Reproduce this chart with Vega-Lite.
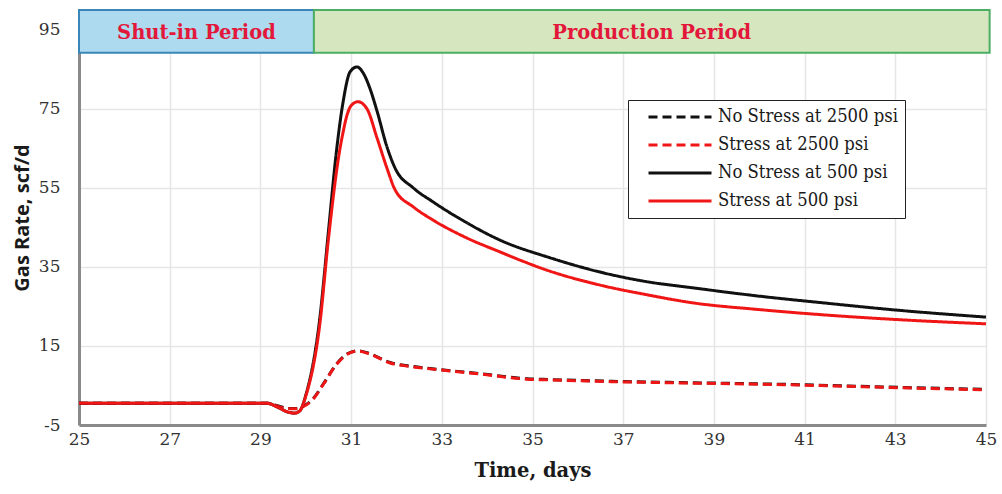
{
  "$schema": "https://vega.github.io/schema/vega-lite/v6.json",
  "width": 907,
  "height": 415,
  "autosize": {"type": "none"},
  "padding": {"left": 79, "top": 10, "right": 16, "bottom": 69},
  "background": "white",
  "config": {
    "view": {"stroke": null},
    "axis": {"labelFont": "DejaVu Serif", "titleFont": "DejaVu Serif"}
  },
  "datasets": {
    "rates": [
      {"t": 25, "q": 0.5, "s": "No Stress at 2500 psi"},
      {"t": 29.15, "q": 0.5, "s": "No Stress at 2500 psi"},
      {"t": 29.4, "q": -0.2, "s": "No Stress at 2500 psi"},
      {"t": 29.6, "q": -0.8, "s": "No Stress at 2500 psi"},
      {"t": 29.8, "q": -0.8, "s": "No Stress at 2500 psi"},
      {"t": 29.95, "q": -0.2, "s": "No Stress at 2500 psi"},
      {"t": 30.16, "q": 1.6, "s": "No Stress at 2500 psi"},
      {"t": 30.4, "q": 5.6, "s": "No Stress at 2500 psi"},
      {"t": 30.69, "q": 10.6, "s": "No Stress at 2500 psi"},
      {"t": 30.9, "q": 12.9, "s": "No Stress at 2500 psi"},
      {"t": 31.15, "q": 13.8, "s": "No Stress at 2500 psi"},
      {"t": 31.4, "q": 13.1, "s": "No Stress at 2500 psi"},
      {"t": 31.86, "q": 10.8, "s": "No Stress at 2500 psi"},
      {"t": 32.3, "q": 9.9, "s": "No Stress at 2500 psi"},
      {"t": 32.74, "q": 9.3, "s": "No Stress at 2500 psi"},
      {"t": 33.84, "q": 8.0, "s": "No Stress at 2500 psi"},
      {"t": 34.88, "q": 6.7, "s": "No Stress at 2500 psi"},
      {"t": 35.39, "q": 6.5, "s": "No Stress at 2500 psi"},
      {"t": 37, "q": 6.0, "s": "No Stress at 2500 psi"},
      {"t": 38.5, "q": 5.7, "s": "No Stress at 2500 psi"},
      {"t": 40.52, "q": 5.3, "s": "No Stress at 2500 psi"},
      {"t": 42.5, "q": 4.7, "s": "No Stress at 2500 psi"},
      {"t": 45, "q": 4.0, "s": "No Stress at 2500 psi"},

      {"t": 25, "q": 0.5, "s": "Stress at 2500 psi"},
      {"t": 29.15, "q": 0.5, "s": "Stress at 2500 psi"},
      {"t": 29.4, "q": -0.3, "s": "Stress at 2500 psi"},
      {"t": 29.6, "q": -0.9, "s": "Stress at 2500 psi"},
      {"t": 29.8, "q": -0.9, "s": "Stress at 2500 psi"},
      {"t": 29.95, "q": -0.3, "s": "Stress at 2500 psi"},
      {"t": 30.16, "q": 1.5, "s": "Stress at 2500 psi"},
      {"t": 30.4, "q": 5.5, "s": "Stress at 2500 psi"},
      {"t": 30.69, "q": 10.5, "s": "Stress at 2500 psi"},
      {"t": 30.9, "q": 12.8, "s": "Stress at 2500 psi"},
      {"t": 31.15, "q": 13.7, "s": "Stress at 2500 psi"},
      {"t": 31.4, "q": 13.0, "s": "Stress at 2500 psi"},
      {"t": 31.86, "q": 10.7, "s": "Stress at 2500 psi"},
      {"t": 32.3, "q": 9.8, "s": "Stress at 2500 psi"},
      {"t": 32.74, "q": 9.2, "s": "Stress at 2500 psi"},
      {"t": 33.84, "q": 7.9, "s": "Stress at 2500 psi"},
      {"t": 34.88, "q": 6.6, "s": "Stress at 2500 psi"},
      {"t": 35.39, "q": 6.4, "s": "Stress at 2500 psi"},
      {"t": 37, "q": 5.9, "s": "Stress at 2500 psi"},
      {"t": 38.5, "q": 5.6, "s": "Stress at 2500 psi"},
      {"t": 40.52, "q": 5.2, "s": "Stress at 2500 psi"},
      {"t": 42.5, "q": 4.6, "s": "Stress at 2500 psi"},
      {"t": 45, "q": 3.9, "s": "Stress at 2500 psi"},

      {"t": 25, "q": 0.5, "s": "No Stress at 500 psi"},
      {"t": 29.15, "q": 0.5, "s": "No Stress at 500 psi"},
      {"t": 29.4, "q": -0.6, "s": "No Stress at 500 psi"},
      {"t": 29.6, "q": -1.7, "s": "No Stress at 500 psi"},
      {"t": 29.75, "q": -2.0, "s": "No Stress at 500 psi"},
      {"t": 29.87, "q": -1.4, "s": "No Stress at 500 psi"},
      {"t": 30.0, "q": 2.5, "s": "No Stress at 500 psi"},
      {"t": 30.31, "q": 22, "s": "No Stress at 500 psi"},
      {"t": 30.5, "q": 44, "s": "No Stress at 500 psi"},
      {"t": 30.68, "q": 64.6, "s": "No Stress at 500 psi"},
      {"t": 30.82, "q": 76.5, "s": "No Stress at 500 psi"},
      {"t": 30.98, "q": 84.4, "s": "No Stress at 500 psi"},
      {"t": 31.13, "q": 85.6, "s": "No Stress at 500 psi"},
      {"t": 31.27, "q": 84, "s": "No Stress at 500 psi"},
      {"t": 31.42, "q": 80, "s": "No Stress at 500 psi"},
      {"t": 31.57, "q": 74.5, "s": "No Stress at 500 psi"},
      {"t": 31.79, "q": 65.4, "s": "No Stress at 500 psi"},
      {"t": 31.97, "q": 60, "s": "No Stress at 500 psi"},
      {"t": 32.37, "q": 55, "s": "No Stress at 500 psi"},
      {"t": 32.8, "q": 51.5, "s": "No Stress at 500 psi"},
      {"t": 33.5, "q": 46.5, "s": "No Stress at 500 psi"},
      {"t": 34.28, "q": 41.8, "s": "No Stress at 500 psi"},
      {"t": 35.39, "q": 37.3, "s": "No Stress at 500 psi"},
      {"t": 36.49, "q": 33.7, "s": "No Stress at 500 psi"},
      {"t": 37.5, "q": 31.3, "s": "No Stress at 500 psi"},
      {"t": 38.54, "q": 29.7, "s": "No Stress at 500 psi"},
      {"t": 40, "q": 27.6, "s": "No Stress at 500 psi"},
      {"t": 41.5, "q": 25.8, "s": "No Stress at 500 psi"},
      {"t": 43, "q": 24.1, "s": "No Stress at 500 psi"},
      {"t": 45, "q": 22.3, "s": "No Stress at 500 psi"},

      {"t": 25, "q": 0.5, "s": "Stress at 500 psi"},
      {"t": 29.15, "q": 0.5, "s": "Stress at 500 psi"},
      {"t": 29.4, "q": -0.6, "s": "Stress at 500 psi"},
      {"t": 29.6, "q": -1.7, "s": "Stress at 500 psi"},
      {"t": 29.75, "q": -2.0, "s": "Stress at 500 psi"},
      {"t": 29.87, "q": -1.4, "s": "Stress at 500 psi"},
      {"t": 30.0, "q": 2.3, "s": "Stress at 500 psi"},
      {"t": 30.31, "q": 20.5, "s": "Stress at 500 psi"},
      {"t": 30.5, "q": 42, "s": "Stress at 500 psi"},
      {"t": 30.75, "q": 64.6, "s": "Stress at 500 psi"},
      {"t": 30.82, "q": 68.9, "s": "Stress at 500 psi"},
      {"t": 30.9, "q": 73, "s": "Stress at 500 psi"},
      {"t": 31.0, "q": 75.8, "s": "Stress at 500 psi"},
      {"t": 31.15, "q": 76.8, "s": "Stress at 500 psi"},
      {"t": 31.35, "q": 75.0, "s": "Stress at 500 psi"},
      {"t": 31.57, "q": 67.7, "s": "Stress at 500 psi"},
      {"t": 31.79, "q": 60, "s": "Stress at 500 psi"},
      {"t": 31.97, "q": 54.5, "s": "Stress at 500 psi"},
      {"t": 32.37, "q": 50.2, "s": "Stress at 500 psi"},
      {"t": 32.8, "q": 46.9, "s": "Stress at 500 psi"},
      {"t": 33.5, "q": 42.6, "s": "Stress at 500 psi"},
      {"t": 34.28, "q": 38.8, "s": "Stress at 500 psi"},
      {"t": 35.39, "q": 33.9, "s": "Stress at 500 psi"},
      {"t": 36.49, "q": 30.4, "s": "Stress at 500 psi"},
      {"t": 37.5, "q": 28.0, "s": "Stress at 500 psi"},
      {"t": 38.54, "q": 25.9, "s": "Stress at 500 psi"},
      {"t": 40, "q": 24.2, "s": "Stress at 500 psi"},
      {"t": 41.5, "q": 22.8, "s": "Stress at 500 psi"},
      {"t": 43, "q": 21.7, "s": "Stress at 500 psi"},
      {"t": 45, "q": 20.6, "s": "Stress at 500 psi"}
    ],
    "periods": [
      {"period": "Shut-in Period", "start": 25, "end": 30.18, "mid": 27.59},
      {"period": "Production Period", "start": 30.18, "end": 45.08, "mid": 37.63}
    ]
  },
  "layer": [
    {
      "data": {"name": "rates"},
      "mark": {"type": "line", "interpolate": "monotone", "strokeWidth": 3, "clip": true},
      "encoding": {
        "x": {
          "field": "t", "type": "quantitative",
          "scale": {"domain": [25, 45], "nice": false, "zero": false},
          "axis": {
            "values": [25, 27, 29, 31, 33, 35, 37, 39, 41, 43, 45],
            "title": "Time, days",
            "titleFont": "DejaVu Serif",
            "titleFontSize": 19.5,
            "titleFontWeight": "bold",
            "titleColor": "#1a1a1a",
            "titlePadding": 14,
            "labelFont": "DejaVu Serif",
            "labelFontSize": 17,
            "labelColor": "#333333",
            "labelPadding": 6,
            "labelFlush": false,
            "ticks": false,
            "domainColor": "#8a8a8a",
            "domainWidth": 3,
            "grid": true,
            "gridColor": "#e6e6e6",
            "gridWidth": 1.5
          }
        },
        "y": {
          "field": "q", "type": "quantitative",
          "scale": {"domain": [-5, 100], "nice": false, "zero": false},
          "axis": {
            "values": [-5, 15, 35, 55, 75, 95],
            "labelExpr": "replace(datum.label, '−', '-')",
            "title": "Gas Rate, scf/d",
            "titleFont": "Open Sans",
            "titleFontSize": 20,
            "titleFontWeight": "bold",
            "titleColor": "#1a1a1a",
            "titlePadding": 6,
            "labelFont": "DejaVu Serif",
            "labelFontSize": 17,
            "labelColor": "#333333",
            "labelPadding": 19,
            "labelFlush": false,
            "ticks": false,
            "domainColor": "#8a8a8a",
            "domainWidth": 3,
            "grid": true,
            "gridColor": "#e6e6e6",
            "gridWidth": 1.5
          }
        },
        "color": {
          "field": "s", "type": "nominal",
          "scale": {
            "domain": ["No Stress at 2500 psi", "Stress at 2500 psi", "No Stress at 500 psi", "Stress at 500 psi"],
            "range": ["#111111", "#f01616", "#111111", "#f01616"]
          },
          "legend": {
            "orient": "none",
            "legendX": 549,
            "legendY": 90,
            "title": null,
            "symbolType": "stroke",
            "symbolSize": 3969,
            "symbolStrokeWidth": 3,
            "symbolOffset": 12,
            "labelFont": "DejaVu Serif Condensed",
            "labelFontSize": 18.3,
            "labelColor": "#1a1a1a",
            "labelOffset": 5,
            "labelLimit": 300,
            "rowPadding": 8,
            "clipHeight": 20,
            "padding": 7,
            "strokeColor": "#222222",
            "fillColor": "white"
          }
        },
        "strokeDash": {
          "field": "s", "type": "nominal",
          "scale": {
            "domain": ["No Stress at 2500 psi", "Stress at 2500 psi", "No Stress at 500 psi", "Stress at 500 psi"],
            "range": [[9, 5], [9, 5], [1, 0], [1, 0]]
          },
          "legend": null
        }
      }
    },
    {
      "data": {"name": "periods"},
      "transform": [{"filter": "datum.period === 'Shut-in Period'"}],
      "mark": {"type": "rect", "fill": "#addaee", "stroke": "#3a86b8", "strokeWidth": 2},
      "encoding": {
        "x": {"field": "start", "type": "quantitative"},
        "x2": {"field": "end"},
        "y": {"datum": 89.2},
        "y2": {"datum": 100}
      }
    },
    {
      "data": {"name": "periods"},
      "transform": [{"filter": "datum.period === 'Production Period'"}],
      "mark": {"type": "rect", "fill": "#d6e7c0", "stroke": "#4cae62", "strokeWidth": 2, "clip": false},
      "encoding": {
        "x": {"field": "start", "type": "quantitative"},
        "x2": {"field": "end"},
        "y": {"datum": 89.2},
        "y2": {"datum": 100}
      }
    },
    {
      "data": {"name": "periods"},
      "mark": {"type": "text", "font": "DejaVu Serif", "fontSize": 19.5, "fontWeight": "bold", "color": "#e3173a", "baseline": "middle", "align": "center"},
      "encoding": {
        "x": {"field": "mid", "type": "quantitative"},
        "y": {"datum": 94.2},
        "text": {"field": "period"}
      }
    },
    {
      "mark": {"type": "rule", "color": "#111111", "strokeWidth": 2.5},
      "encoding": {
        "x": {"datum": 45},
        "y": {"datum": -5},
        "y2": {"datum": 89.2}
      }
    }
  ]
}
